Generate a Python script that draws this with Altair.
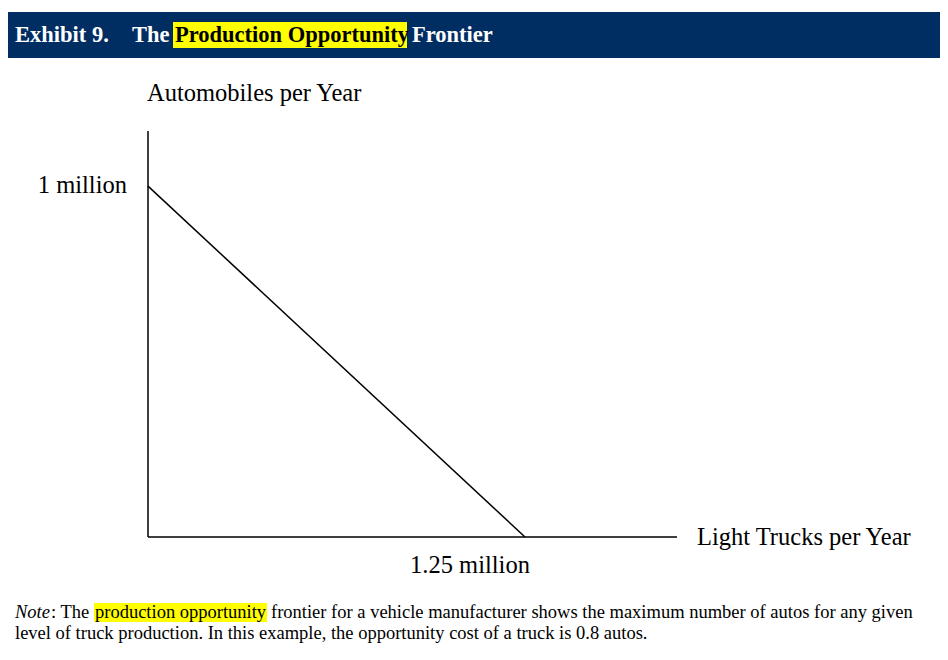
import altair as alt
import pandas as pd

# ---- data ----
trucks = [0.0, 1.25]          # millions of light trucks per year
autos = [1.0, 0.0]            # millions of automobiles per year
axis_max_trucks = 1.754       # extent of drawn horizontal axis
axis_max_autos = 1.157        # extent of drawn vertical axis
tick_labels = ["1 million", "1.25 million"]
axis_titles = ["Automobiles per Year", "Light Trucks per Year"]
header_parts = ["Exhibit 9.", "The", "Production Opportunity", "Frontier"]
note_parts = ["Note", ": The", "production opportunity",
              "frontier for a vehicle manufacturer shows the maximum number of autos for any given",
              "level of truck production. In this example, the opportunity cost of a truck is 0.8 autos."]

W, H = 932, 644
NAVY = "#002d62"
YELLOW = "#ffff00"
SERIF = "Liberation Serif"
AX = 24.5

xs = alt.Scale(domain=[0, axis_max_trucks], range=[140, 669])
ys = alt.Scale(domain=[0, axis_max_autos], range=[529, 123])

one = pd.DataFrame({"k": [0]})

frontier = alt.Chart(pd.DataFrame({"trucks": trucks, "autos": autos})).mark_line(
    color="black", strokeWidth=1.5
).encode(
    x=alt.X("trucks:Q", scale=xs, axis=None),
    y=alt.Y("autos:Q", scale=ys, axis=None),
)

yaxis = alt.Chart(pd.DataFrame({"x": [0], "y": [0], "y2": [axis_max_autos]})).mark_rule(
    color="black", strokeWidth=1.5
).encode(x=alt.X("x:Q", scale=xs), y=alt.Y("y:Q", scale=ys), y2="y2:Q")

xaxis = alt.Chart(pd.DataFrame({"x": [0], "x2": [axis_max_trucks], "y": [0]})).mark_rule(
    color="black", strokeWidth=1.5
).encode(x=alt.X("x:Q", scale=xs), x2="x2:Q", y=alt.Y("y:Q", scale=ys))

ylab = alt.Chart(pd.DataFrame({"x": [0], "y": [autos[0]], "t": [tick_labels[0]]})).mark_text(
    font=SERIF, fontSize=AX, align="right", baseline="middle", dx=-21, color="black"
).encode(x=alt.X("x:Q", scale=xs), y=alt.Y("y:Q", scale=ys), text="t:N")

xlab = alt.Chart(pd.DataFrame({"x": [trucks[1]], "y": [0], "t": [tick_labels[1]]})).mark_text(
    font=SERIF, fontSize=AX, align="center", baseline="top", dy=17, dx=-55, color="black"
).encode(x=alt.X("x:Q", scale=xs), y=alt.Y("y:Q", scale=ys), text="t:N")

def txt(s, x, y, size, color="black", weight="normal", style="normal", align="left"):
    return alt.Chart(one).mark_text(
        font=SERIF, fontSize=size, fontWeight=weight, fontStyle=style,
        align=align, baseline="alphabetic", color=color
    ).encode(x=alt.value(x), y=alt.value(y), text=alt.value(s))

def box(x, x2, y, y2, color):
    return alt.Chart(one).mark_rect(color=color).encode(
        x=alt.value(x), x2=alt.value(x2), y=alt.value(y), y2=alt.value(y2))

HD = 22.5
NT = 18.5
layers = [
    box(0, W, 4, 50, NAVY),
    box(165, 399, 14, 40, YELLOW),
    txt(header_parts[0], 7, 34, HD, "white", "bold"),
    txt(header_parts[1], 124, 34, HD, "white", "bold"),
    txt(header_parts[2], 167, 34, HD, "black", "bold"),
    txt(header_parts[3], 404, 34, HD, "white", "bold"),
    txt(axis_titles[0], 139, 93, AX),
    txt(axis_titles[1], 689, 537, AX),
    frontier, yaxis, xaxis, ylab, xlab,
    box(86, 259, 595, 614, YELLOW),
    txt(note_parts[0], 7, 610, NT, style="italic"),
    txt(note_parts[1], 43, 610, NT),
    txt(note_parts[2], 87, 610, NT),
    txt(note_parts[3], 263, 610, NT),
    txt(note_parts[4], 7, 631, NT),
]

chart = alt.layer(*layers).properties(
    width=W, height=H, autosize=alt.AutoSizeParams(type="none"), padding=0
).configure_view(stroke=None)

chart.save("out.html", embed_options={"renderer": "svg", "actions": False})
